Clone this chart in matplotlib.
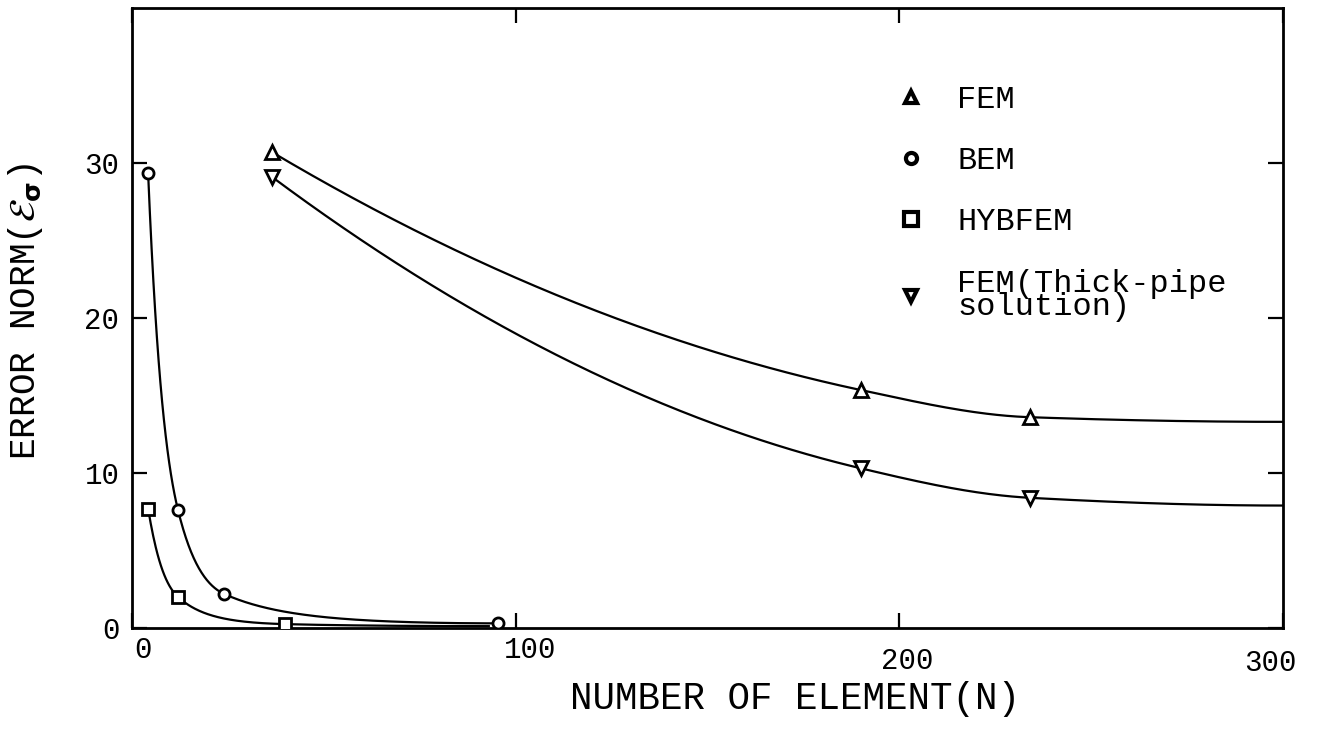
import numpy as np
import matplotlib
matplotlib.use("Agg")
import matplotlib.pyplot as plt
from matplotlib.lines import Line2D
from matplotlib.transforms import ScaledTranslation

# ---- data ----
fem_n = [36.5, 190.0, 234.0]
fem_err = [30.7, 15.35, 13.6]
thick_n = [36.5, 190.0, 234.0]
thick_err = [29.1, 10.3, 8.4]
bem_n = [4.2, 12.0, 24.0, 95.4]
bem_err = [29.35, 7.6, 2.2, 0.3]
hyb_n = [4.2, 12.0, 40.0]
hyb_err = [7.7, 2.0, 0.25]
# where the hand-drawn curves end beyond the last marker
fem_curve_end = (300.0, 13.3)
thick_curve_end = (300.0, 7.9)
hyb_curve_end = (93.0, 0.12)

x_ticks = [0, 100, 200, 300]
y_ticks = [0, 10, 20, 30]
labels = ["FEM", "BEM", "HYBFEM", "FEM(Thick-pipe\nsolution)"]


def pchip(x, y, xs):
    x = np.asarray(x, float)
    y = np.asarray(y, float)
    h = np.diff(x)
    d = np.diff(y) / h
    n = len(x)
    m = np.zeros(n)
    for k in range(1, n - 1):
        if d[k - 1] * d[k] <= 0:
            m[k] = 0.0
        else:
            w1 = 2 * h[k] + h[k - 1]
            w2 = h[k] + 2 * h[k - 1]
            m[k] = (w1 + w2) / (w1 / d[k - 1] + w2 / d[k])

    def end(h0, h1, d0, d1):
        mm = ((2 * h0 + h1) * d0 - h0 * d1) / (h0 + h1)
        if np.sign(mm) != np.sign(d0):
            mm = 0.0
        elif np.sign(d0) != np.sign(d1) and abs(mm) > abs(3 * d0):
            mm = 3 * d0
        return mm

    if n > 2:
        m[0] = end(h[0], h[1], d[0], d[1])
        m[-1] = end(h[-1], h[-2], d[-1], d[-2])
    else:
        m[:] = d[0]
    xs = np.asarray(xs, float)
    idx = np.clip(np.searchsorted(x, xs) - 1, 0, n - 2)
    t = (xs - x[idx]) / h[idx]
    h00 = 2 * t**3 - 3 * t**2 + 1
    h10 = t**3 - 2 * t**2 + t
    h01 = -2 * t**3 + 3 * t**2
    h11 = t**3 - t**2
    return h00 * y[idx] + h10 * h[idx] * m[idx] + h01 * y[idx + 1] + h11 * h[idx] * m[idx + 1]


def curve(xp, yp, log=False, npts=400):
    xs = np.linspace(xp[0], xp[-1], npts)
    if log:
        return xs, np.exp(pchip(xp, np.log(yp), xs))
    return xs, pchip(xp, yp, xs)


plt.rcParams['font.family'] = ['Liberation Mono', 'DejaVu Sans Mono']
plt.rcParams['mathtext.fontset'] = 'dejavusans'

fig = plt.figure(figsize=(13.29, 7.45), dpi=100)
ax = fig.add_axes([132 / 1329, (745 - 628) / 745, 1151 / 1329, 620 / 745])

lw = 1.6
# curves
cx, cy = curve(fem_n + [fem_curve_end[0]], fem_err + [fem_curve_end[1]])
ax.plot(cx, cy, color='black', lw=lw)
cx, cy = curve(thick_n + [thick_curve_end[0]], thick_err + [thick_curve_end[1]])
ax.plot(cx, cy, color='black', lw=lw)
cx, cy = curve(bem_n, bem_err, log=True)
ax.plot(cx, cy, color='black', lw=lw)
cx, cy = curve(hyb_n + [hyb_curve_end[0]], hyb_err + [hyb_curve_end[1]], log=True)
ax.plot(cx, cy, color='black', lw=lw)

# markers
mk = dict(color='black', markerfacecolor='white', markeredgecolor='black',
          linestyle='none', markeredgewidth=2.0, zorder=5)
ax.plot(fem_n, fem_err, marker='^', markersize=10, **mk)
ax.plot(thick_n, thick_err, marker='v', markersize=10, **mk)
ax.plot(bem_n, bem_err, marker='o', markersize=8, **mk)
ax.plot(hyb_n, hyb_err, marker='s', markersize=8, **mk)

ax.set_xlim(0, 300)
ax.set_ylim(0, 40)
ax.set_xticks(x_ticks)
ax.set_yticks(y_ticks)
ax.set_xticklabels([str(v) for v in x_ticks])
ax.set_yticklabels([str(v) for v in y_ticks])
ax.tick_params(direction='in', length=11, width=1.6, top=True, right=True,
               labelsize=21)
ax.tick_params(axis='x', pad=10)
ax.tick_params(axis='y', pad=9)
for s in ax.spines.values():
    s.set_linewidth(2.0)

# small hand-set offsets of the x tick labels (pixels), as in the scan
x_label_shift = [(11, 6), (14, 6), (8, -5), (-13, -7)]
for tick, (dx, dy) in zip(ax.xaxis.get_major_ticks(), x_label_shift):
    lab = tick.label1
    lab.set_transform(lab.get_transform() + ScaledTranslation(dx / 100, dy / 100, fig.dpi_scale_trans))

ax.set_xlabel('NUMBER OF ELEMENT(N)', fontsize=27)
ax.xaxis.set_label_coords(0.576, -0.085)
ax.set_ylabel(r'ERROR NORM($\mathbf{\mathcal{E}_\sigma}$)', fontsize=26)
ax.yaxis.set_label_coords(-0.076, 0.51)

# legend
lk = dict(color='black', markerfacecolor='white', markeredgecolor='black',
          linestyle='none', markeredgewidth=3.0)
handles = [Line2D([], [], marker='^', markersize=9, **lk),
           Line2D([], [], marker='o', markersize=8, **lk),
           Line2D([], [], marker='s', markersize=10, **lk),
           Line2D([], [], marker='v', markersize=9, **lk)]
leg = ax.legend(handles, labels, loc='upper left', bbox_to_anchor=(0.663, 0.876),
                frameon=False, fontsize=23, handlelength=1.0, handletextpad=0.95,
                borderpad=0, borderaxespad=0, labelspacing=0.98)
leg.get_texts()[3].set_linespacing(0.7)

fig.savefig('out.png', dpi=100)
